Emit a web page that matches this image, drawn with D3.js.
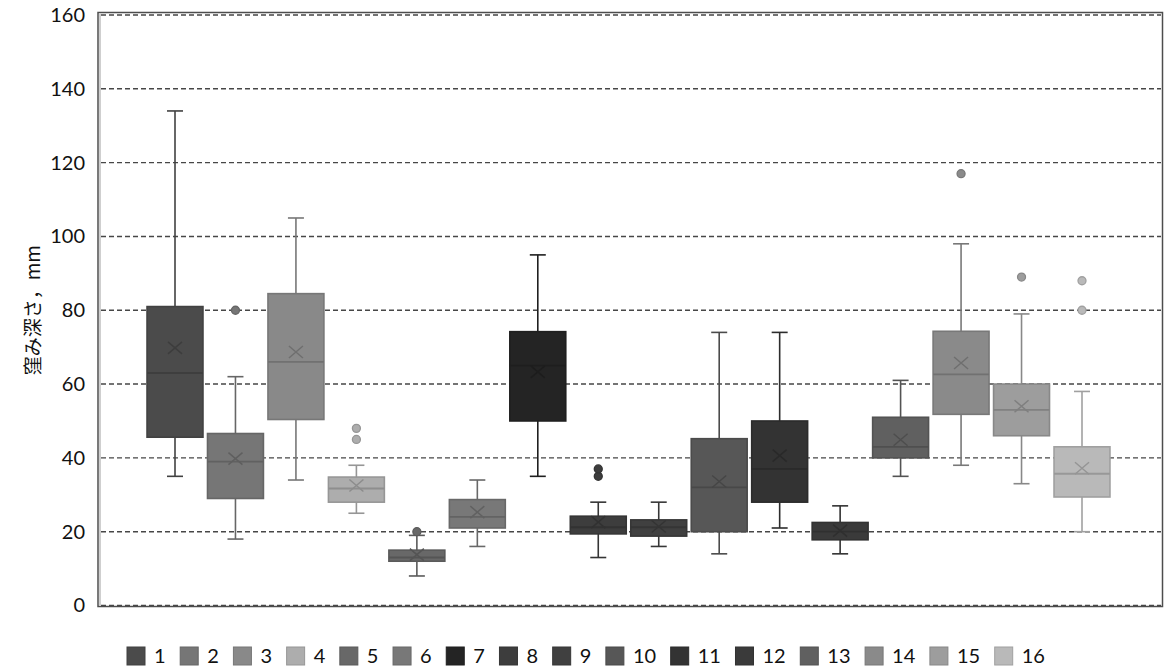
<!DOCTYPE html>
<html>
<head>
<meta charset="utf-8">
<script src="https://cdn.jsdelivr.net/npm/d3@7"></script>
<style>
  body { margin: 0; background: #fff; }
  svg { display: block; font-family: Lato, "Liberation Sans", sans-serif; }
</style>
</head>
<body>
<svg id="chart" width="1165" height="668"></svg>
<script>
const SERIES = ["1", "2", "3", "4", "5", "6", "7", "8", "9", "10", "11", "12", "13", "14", "15", "16"];
const WHISKER_LOW = [35, 18, 34, 25, 8, 16, 35, 13, 16, 14, 21, 14, 35, 38, 33, 20];
const Q1 = [45.6, 29, 50.4, 28, 12, 21, 50, 19.4, 18.8, 20, 28, 17.8, 40, 51.8, 46, 29.4];
const MEDIAN = [63, 39, 66, 31.7, 13, 24, 65, 21.2, 21.2, 32, 37, 20, 43, 62.6, 53, 35.7];
const Q3 = [81, 46.6, 84.5, 34.8, 15, 28.7, 74.2, 24.2, 23.2, 45.2, 50, 22.5, 51, 74.3, 60, 43];
const WHISKER_HIGH = [134, 62, 105, 38, 19, 34, 95, 28, 28, 74, 74, 27, 61, 98, 79, 58];
const MEANS = [69.8, 39.8, 68.7, 32.5, 13.8, 25.3, 63.3, 22.6, 21.4, 33.6, 40.6, 20.3, 44.9, 65.7, 54, 37.2];
const OUTLIERS = [[], [80], [], [45, 48], [20], [], [], [35, 37], [], [], [], [], [], [117], [89], [80, 88]];
const FILLS = ["#4b4b4b", "#767676", "#898989", "#adadad", "#686868", "#787878", "#242424", "#3d3d3d",
               "#404040", "#575757", "#333333", "#3a3a3a", "#606060", "#8a8a8a", "#9d9d9d", "#b9b9b9"];
const Y_TICKS = [0, 20, 40, 60, 80, 100, 120, 140, 160];

const svg = d3.select("#chart");
const margin = { top: 15, right: 2, bottom: 63, left: 98 };
const width = 1165, height = 668;

// box centres run from the first to the last series slot
const x = d3.scalePoint()
  .domain(SERIES)
  .range([175, 1082]);
const boxW = x.step() * 0.925;
const capW = 16;

const y = d3.scaleLinear()
  .domain([0, 160])
  .range([height - margin.bottom + 0.5, margin.top]);

function strokeOf(i) {
  return d3.color(FILLS[i]).darker(0.4).formatHex();
}

// frame
svg.append("rect")
  .attr("x", margin.left)
  .attr("y", margin.top - 2.5)
  .attr("width", width - margin.right - margin.left - 0.5)
  .attr("height", y(0) - margin.top + 3.5)
  .attr("fill", "none")
  .attr("stroke", "#4d4d4d")
  .attr("stroke-width", 1.5);
svg.append("line")
  .attr("x1", margin.left + 2).attr("x2", margin.left + 2)
  .attr("y1", margin.top - 1.5).attr("y2", y(0))
  .attr("stroke", "#cfcfcf").attr("stroke-width", 2);

// grid
svg.append("g")
  .selectAll("line")
  .data(Y_TICKS)
  .join("line")
  .attr("x1", margin.left + 3)
  .attr("x2", width - margin.right - 2)
  .attr("y1", d => y(d))
  .attr("y2", d => y(d))
  .attr("stroke", "#474747")
  .attr("stroke-width", 1.4)
  .attr("stroke-dasharray", "5,3");

// y axis labels
const yAxis = svg.append("g")
  .attr("transform", `translate(${margin.left},0)`)
  .call(d3.axisLeft(y).tickValues(Y_TICKS).tickSize(0).tickPadding(13));
yAxis.select(".domain").remove();
yAxis.selectAll("text")
  .attr("font-size", 20)
  .attr("font-family", "Lato, 'Liberation Sans', sans-serif")
  .attr("fill", "#111");

svg.append("text")
  .attr("transform", `translate(40,${(margin.top + y(0)) / 2}) rotate(-90)`)
  .attr("text-anchor", "middle")
  .attr("font-family", "'Noto Sans CJK JP', sans-serif")
  .attr("font-size", 19)
  .attr("fill", "#111")
  .text("窪み深さ，mm");

// boxes
const boxes = svg.append("g")
  .selectAll("g")
  .data(SERIES)
  .join("g")
  .attr("transform", d => `translate(${x(d)},0)`);

boxes.append("line")
  .attr("y1", (d, i) => y(WHISKER_LOW[i]))
  .attr("y2", (d, i) => y(WHISKER_HIGH[i]))
  .attr("stroke", (d, i) => strokeOf(i))
  .attr("stroke-width", 1.6);

boxes.selectAll(".cap")
  .data((d, i) => [{ v: WHISKER_LOW[i], i }, { v: WHISKER_HIGH[i], i }])
  .join("line")
  .attr("class", "cap")
  .attr("x1", -capW / 2).attr("x2", capW / 2)
  .attr("y1", c => y(c.v)).attr("y2", c => y(c.v))
  .attr("stroke", c => strokeOf(c.i))
  .attr("stroke-width", 1.6);

boxes.append("rect")
  .attr("x", -boxW / 2)
  .attr("width", boxW)
  .attr("y", (d, i) => y(Q3[i]))
  .attr("height", (d, i) => y(Q1[i]) - y(Q3[i]))
  .attr("fill", (d, i) => FILLS[i])
  .attr("stroke", (d, i) => strokeOf(i))
  .attr("stroke-width", 1.6);

boxes.append("line")
  .attr("x1", -boxW / 2).attr("x2", boxW / 2)
  .attr("y1", (d, i) => y(MEDIAN[i]))
  .attr("y2", (d, i) => y(MEDIAN[i]))
  .attr("stroke", (d, i) => d3.color(FILLS[i]).darker(0.55).formatHex())
  .attr("stroke-width", 1.8);

// mean markers
boxes.append("path")
  .attr("d", (d, i) => {
    const cy = y(MEANS[i]);
    return `M-7,${cy - 6}L7,${cy + 6}M-7,${cy + 6}L7,${cy - 6}`;
  })
  .attr("stroke", (d, i) => d3.color(FILLS[i]).darker(0.6).formatHex())
  .attr("stroke-width", 1.5)
  .attr("fill", "none");

// outliers
boxes.selectAll(".out")
  .data((d, i) => OUTLIERS[i].map(v => ({ v, i })))
  .join("circle")
  .attr("class", "out")
  .attr("r", 4)
  .attr("cy", o => y(o.v))
  .attr("fill", o => FILLS[o.i])
  .attr("stroke", o => strokeOf(o.i))
  .attr("stroke-width", 1.3);

// legend
const legend = svg.append("g");
let lx = 127;
const ly = 656;
SERIES.forEach((s, i) => {
  const item = legend.append("g").attr("transform", `translate(${lx},${ly})`);
  item.append("rect")
    .attr("x", 0).attr("y", -9)
    .attr("width", 18).attr("height", 18)
    .attr("fill", FILLS[i])
    .attr("stroke", strokeOf(i))
    .attr("stroke-width", 1);
  const t = item.append("text")
    .attr("x", 27)
    .attr("dy", "0.36em")
    .attr("font-size", 20)
    .attr("fill", "#111")
    .text(s);
  lx += 27 + t.node().getComputedTextLength() + 14.6;
});
</script>
</body>
</html>
